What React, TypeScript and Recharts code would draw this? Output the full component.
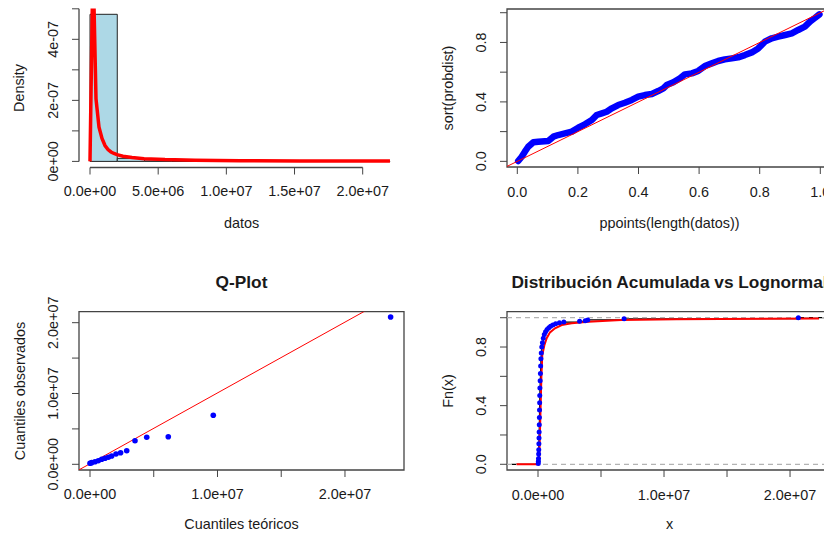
import React from 'react';
import {
  ComposedChart, XAxis, YAxis, Line, Scatter, ReferenceArea, ReferenceLine,
} from 'recharts';

// ---- panel 1: histogram + lognormal density ----
const histBreaks = [0, 2e6, 4e6, 6e6, 8e6, 10e6, 12e6, 14e6, 16e6, 18e6, 20e6, 22e6];
const histDensity = [4.82e-7, 1.0e-8, 5e-9, 1.2e-9, 1.2e-9, 1.2e-9, 0, 0, 0, 0, 1.2e-9];
const densX = [0, 0.22e6, 0.44e6, 0.66e6, 0.88e6, 1.1e6, 1.32e6, 1.54e6, 1.76e6, 1.98e6, 2.42e6, 3.08e6, 3.96e6, 5.5e6, 7.7e6, 11e6, 15.4e6, 22e6];
const densY = [0, 6.6e-7, 2.05e-7, 1.12e-7, 0.75e-7, 0.52e-7, 0.39e-7, 0.31e-7, 0.26e-7, 0.22e-7, 0.17e-7, 0.13e-7, 0.09e-7, 0.06e-7, 0.04e-7, 0.025e-7, 0.015e-7, 0.01e-7];
const p1XTicks = [0, 5e6, 10e6, 15e6, 20e6];
const p1XLabels = ['0.0e+00', '5.0e+06', '1.0e+07', '1.5e+07', '2.0e+07'];
const p1YTicks = [0, 1e-7, 2e-7, 3e-7, 4e-7, 5e-7];
const p1YLabels = ['0e+00', '', '2e-07', '', '4e-07', ''];

// ---- panel 2: P-P plot ----
const ppX = [0.003, 0.0145, 0.025, 0.036, 0.053, 0.069, 0.102, 0.119, 0.135, 0.157, 0.18, 0.201, 0.223, 0.246, 0.262, 0.279, 0.295, 0.312, 0.333, 0.355, 0.378, 0.399, 0.421, 0.444, 0.465, 0.482, 0.493, 0.515, 0.537, 0.553, 0.576, 0.597, 0.619, 0.642, 0.663, 0.685, 0.708, 0.729, 0.751, 0.774, 0.795, 0.817, 0.84, 0.861, 0.884, 0.906, 0.927, 0.949, 0.966, 0.983, 0.997];
const ppY = [0.002, 0.031, 0.065, 0.098, 0.128, 0.132, 0.137, 0.166, 0.177, 0.188, 0.2, 0.226, 0.249, 0.278, 0.312, 0.323, 0.334, 0.357, 0.379, 0.394, 0.413, 0.435, 0.446, 0.453, 0.473, 0.491, 0.513, 0.532, 0.559, 0.585, 0.592, 0.608, 0.641, 0.659, 0.675, 0.686, 0.693, 0.7, 0.715, 0.733, 0.76, 0.805, 0.828, 0.839, 0.85, 0.861, 0.884, 0.906, 0.94, 0.966, 0.989];
const ppRefX = [-0.1, 1.1];
const ppRefY = [-0.1, 1.1];
const unitTicks = [0, 0.2, 0.4, 0.6, 0.8, 1.0];
const p2XLabels = ['0.0', '0.2', '0.4', '0.6', '0.8', '1.0'];
const unitYLabels = ['0.0', '', '0.4', '', '0.8', ''];

// ---- panel 3: Q-Plot ----
const qTeo = [0, 0.13e6, 0.39e6, 0.65e6, 0.92e6, 1.18e6, 1.44e6, 1.7e6, 2.04e6, 2.4e6, 2.88e6, 3.53e6, 4.45e6, 6.14e6, 9.67e6, 23.58e6];
const qObs = [0.14e6, 0.23e6, 0.37e6, 0.51e6, 0.71e6, 0.85e6, 0.99e6, 1.17e6, 1.45e6, 1.64e6, 1.92e6, 3.33e6, 3.81e6, 3.9e6, 6.92e6, 20.8e6];
const qqRefX = [-1e6, 24e6];
const qqRefY = [-0.92e6, 24.08e6];
const bigTicks = [0, 5e6, 10e6, 15e6, 20e6];
const bigLabels = ['0.0e+00', '', '1.0e+07', '', '2.0e+07'];

// ---- panel 4: ECDF vs lognormal CDF ----
const ecdfX = [0.02e6, 0.03e6, 0.04e6, 0.05e6, 0.06e6, 0.07e6, 0.08e6, 0.09e6, 0.1e6, 0.11e6, 0.12e6, 0.13e6, 0.14e6, 0.15e6, 0.17e6, 0.19e6, 0.21e6, 0.23e6, 0.26e6, 0.3e6, 0.35e6, 0.42e6, 0.5e6, 0.6e6, 0.72e6, 0.86e6, 1.0e6, 1.18e6, 1.4e6, 1.7e6, 2.05e6, 3.3e6, 3.75e6, 3.95e6, 6.83e6, 20.66e6];
const ecdfY = [0.005, 0.02, 0.04, 0.07, 0.1, 0.14, 0.18, 0.22, 0.27, 0.32, 0.37, 0.42, 0.47, 0.52, 0.57, 0.62, 0.67, 0.72, 0.76, 0.8, 0.83, 0.86, 0.885, 0.905, 0.92, 0.932, 0.942, 0.951, 0.958, 0.965, 0.97, 0.975, 0.98, 0.985, 0.993, 1.0];
const cdfX = [-1.7e6, 0, 0.02e6, 0.1e6, 0.15e6, 0.21e6, 0.27e6, 0.34e6, 0.5e6, 0.69e6, 0.95e6, 1.35e6, 1.88e6, 2.67e6, 4.0e6, 6.6e6, 11e6, 22.3e6];
const cdfY = [0, 0, 0.01, 0.05, 0.2, 0.4, 0.6, 0.745, 0.81, 0.86, 0.9, 0.928, 0.95, 0.962, 0.973, 0.984, 0.99, 0.995];

const FONT = '"Liberation Sans", Arial, Helvetica, sans-serif';
const INK = '#1a1a1a';
const BOX = '#444';
const CW = 840;
const CH = 533;
const AXW = 30;
const AXH = 30;

const pts = (xs: number[], ys: number[]) => xs.map((x, i) => ({ x, y: ys[i] }));

const panels = {
  hist: { left: 79, right: 404, top: 8.5, bottom: 167.5, x: [-0.807e6, 23.03e6], y: [-0.2e-7, 5.01e-7] },
  pp: { left: 507, right: 832, top: 9, bottom: 167, x: [-0.034, 1.0386], y: [-0.038, 1.025] },
  qq: { left: 79, right: 404, top: 311.7, bottom: 470, x: [-0.863e6, 24.63e6], y: [-0.805e6, 21.55e6] },
  cdf: { left: 507, right: 832, top: 311.7, bottom: 470, x: [-2.46e6, 23.33e6], y: [-0.039, 1.041] },
};

function margin(p: any) {
  return { left: p.left - AXW, right: CW - p.right, top: p.top, bottom: CH - p.bottom - AXH };
}

function xTick(labels: string[], baseline: number) {
  return (props: any) => (
    <text x={props.x} y={baseline} textAnchor="middle" fontFamily={FONT} fontSize={14.4} fill={INK}>
      {labels[props.index] ?? ''}
    </text>
  );
}

function yTick(labels: string[], bx: number) {
  return (props: any) => (
    <text x={bx} y={props.y} transform={`rotate(-90 ${bx} ${props.y})`} textAnchor="middle"
      fontFamily={FONT} fontSize={14.4} fill={INK}>
      {labels[props.index] ?? ''}
    </text>
  );
}

function Axes({ p, xt, xl, yt, yl, xBase }: any) {
  return null;
}

const dot = (r: number) => (props: any) => <circle cx={props.cx} cy={props.cy} r={r} fill="#0000ff" />;

function Panel({ p, xt, xl, yt, yl, xBase, children }: any) {
  return (
    <div style={{ position: 'absolute', left: 0, top: 0 }}>
      <ComposedChart width={CW} height={CH} margin={margin(p)}>
        <XAxis type="number" dataKey="x" domain={p.x} ticks={xt} interval={0} allowDataOverflow
          tickSize={7} tickLine={{ stroke: BOX }} axisLine={false} height={AXH} tick={xTick(xl, xBase)} />
        <YAxis type="number" dataKey="y" domain={p.y} ticks={yt} interval={0} allowDataOverflow
          tickSize={7} tickLine={{ stroke: BOX }} axisLine={false} width={AXW} tick={yTick(yl, p.left - 20.5)} />
        {children}
      </ComposedChart>
    </div>
  );
}

function boxArea(p: any) {
  return (
    <ReferenceArea x1={p.x[0]} x2={p.x[1]} y1={p.y[0]} y2={p.y[1]} fill="none" fillOpacity={0}
      stroke={BOX} strokeWidth={1.3} ifOverflow="visible" />
  );
}

export default function App() {
  const h = panels.hist;
  return (
    <div style={{ position: 'fixed', left: 0, top: 0, width: 824, height: 533, overflow: 'hidden', background: '#fff' }}>
      <Panel p={h} xt={p1XTicks} xl={p1XLabels} yt={p1YTicks} yl={p1YLabels} xBase={196}>
        {histDensity.map((d, i) => (
          <ReferenceArea key={i} x1={histBreaks[i]} x2={histBreaks[i + 1]} y1={0} y2={d}
            fill="#add8e6" fillOpacity={1} stroke="#222" strokeWidth={1} ifOverflow="visible" />
        ))}
        <Line data={pts(densX, densY)} dataKey="y" stroke="#ff0000" strokeWidth={3.5} dot={false}
          isAnimationActive={false} type="linear" />
        <ReferenceLine segment={[{ x: 0, y: h.y[0] }, { x: 20e6, y: h.y[0] }]} stroke={BOX} strokeWidth={1.3} ifOverflow="visible" />
        <ReferenceLine segment={[{ x: h.x[0], y: 0 }, { x: h.x[0], y: 5e-7 }]} stroke={BOX} strokeWidth={1.3} ifOverflow="visible" />
      </Panel>

      <Panel p={panels.pp} xt={unitTicks} xl={p2XLabels} yt={unitTicks} yl={unitYLabels} xBase={196.5}>
        <Line data={pts(ppX, ppY)} dataKey="y" stroke="#0000ff" strokeWidth={6.5} strokeLinecap="round"
          strokeLinejoin="round" dot={false} isAnimationActive={false} type="linear" />
        <Line data={pts(ppRefX, ppRefY)} dataKey="y" stroke="#ff0000" strokeWidth={1} dot={false}
          isAnimationActive={false} type="linear" />
        {boxArea(panels.pp)}
      </Panel>

      <Panel p={panels.qq} xt={bigTicks} xl={bigLabels} yt={bigTicks} yl={bigLabels} xBase={499}>
        <Scatter data={pts(qTeo, qObs)} dataKey="y" shape={dot(2.8)} isAnimationActive={false} />
        <Line data={pts(qqRefX, qqRefY)} dataKey="y" stroke="#ff0000" strokeWidth={1} dot={false}
          isAnimationActive={false} type="linear" />
        {boxArea(panels.qq)}
      </Panel>

      <Panel p={panels.cdf} xt={bigTicks} xl={bigLabels} yt={unitTicks} yl={unitYLabels} xBase={499.5}>
        <Line data={[{ x: -2.1e6, y: 0 }, ...pts(ecdfX, ecdfY), { x: 23.33e6, y: 1 }]} dataKey="y"
          stroke="#000" strokeWidth={1.2} dot={false} isAnimationActive={false} type="stepAfter" />
        <Scatter data={pts(ecdfX, ecdfY)} dataKey="y" shape={dot(2.5)} isAnimationActive={false} />
        <ReferenceLine y={0} stroke="#b3b3b3" strokeDasharray="5 4" strokeWidth={1.2} />
        <ReferenceLine y={1} stroke="#b3b3b3" strokeDasharray="5 4" strokeWidth={1.2} />
        <Line data={pts(cdfX, cdfY)} dataKey="y" stroke="#ff0000" strokeWidth={2} dot={false}
          isAnimationActive={false} type="linear" />
        {boxArea(panels.cdf)}
      </Panel>

      <svg width={824} height={533} style={{ position: 'absolute', left: 0, top: 0, pointerEvents: 'none' }}
        fontFamily={FONT} fill={INK}>
        <text x={241.5} y={228} textAnchor="middle" fontSize={14.4}>datos</text>
        <text x={24} y={88} textAnchor="middle" fontSize={14.4} transform="rotate(-90 24 88)">Density</text>
        <text x={669.5} y={228} textAnchor="middle" fontSize={14.4}>ppoints(length(datos))</text>
        <text x={453} y={88} textAnchor="middle" fontSize={14.4} transform="rotate(-90 453 88)">sort(probdist)</text>
        <text x={241.5} y={287.5} textAnchor="middle" fontSize={17.3} fontWeight="bold">Q-Plot</text>
        <text x={241.5} y={528.5} textAnchor="middle" fontSize={14.4}>Cuantiles teóricos</text>
        <text x={24.5} y={391} textAnchor="middle" fontSize={14.4} transform="rotate(-90 24.5 391)">Cuantiles observados</text>
        <text x={669.5} y={287.5} textAnchor="middle" fontSize={17.3} fontWeight="bold">Distribución Acumulada vs Lognormal</text>
        <text x={669.5} y={528.5} textAnchor="middle" fontSize={14.4}>x</text>
        <text x={453} y={391} textAnchor="middle" fontSize={14.4} transform="rotate(-90 453 391)">Fn(x)</text>
      </svg>
    </div>
  );
}
